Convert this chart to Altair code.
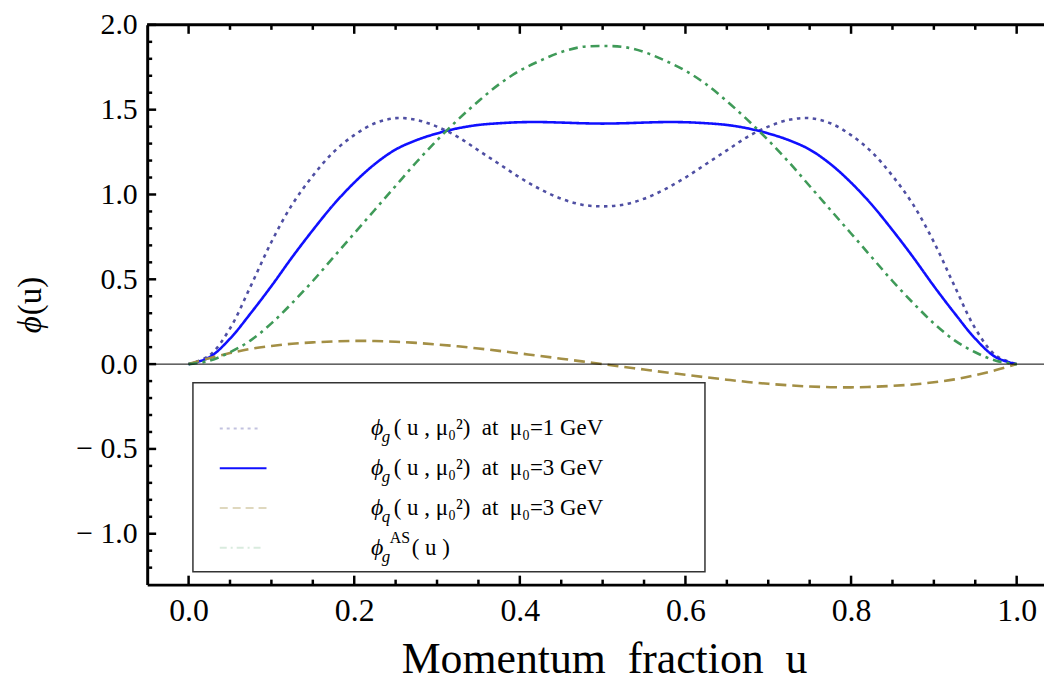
import altair as alt
import pandas as pd

# ---------------- data ----------------
u = [0.0, 0.025, 0.05, 0.075, 0.1, 0.125, 0.15, 0.175, 0.2, 0.225, 0.25,
     0.275, 0.3, 0.325, 0.35, 0.375, 0.4, 0.425, 0.45, 0.475, 0.5,
     0.525, 0.55, 0.575, 0.6, 0.625, 0.65, 0.675, 0.7, 0.725, 0.75,
     0.775, 0.8, 0.825, 0.85, 0.875, 0.9, 0.925, 0.95, 0.975, 1.0]

phi_g_1gev = [0, 0.05, 0.21, 0.46, 0.72, 0.94, 1.11, 1.25, 1.35, 1.42, 1.45,
              1.44, 1.40, 1.34, 1.26, 1.18, 1.10, 1.03, 0.975, 0.94, 0.93,
              0.94, 0.975, 1.03, 1.10, 1.18, 1.26, 1.34, 1.40, 1.44, 1.45,
              1.42, 1.35, 1.25, 1.11, 0.94, 0.72, 0.46, 0.21, 0.05, 0]

phi_g_3gev = [0, 0.04, 0.15, 0.30, 0.46, 0.63, 0.79, 0.94, 1.07, 1.18, 1.265,
              1.32, 1.36, 1.39, 1.41, 1.42, 1.426, 1.427, 1.424, 1.42, 1.418,
              1.42, 1.424, 1.427, 1.426, 1.42, 1.41, 1.39, 1.36, 1.32, 1.265,
              1.18, 1.07, 0.94, 0.79, 0.63, 0.46, 0.30, 0.15, 0.04, 0]

phi_q_3gev = [0, 0.035, 0.065, 0.09, 0.107, 0.12, 0.128, 0.134, 0.137, 0.136, 0.132,
              0.125, 0.116, 0.105, 0.092, 0.078, 0.063, 0.048, 0.032, 0.016, 0,
              -0.016, -0.032, -0.048, -0.063, -0.078, -0.092, -0.105, -0.116, -0.125, -0.132,
              -0.136, -0.137, -0.134, -0.128, -0.12, -0.107, -0.09, -0.065, -0.035, 0]

phi_g_as = [0, 0.02, 0.07, 0.14, 0.24, 0.36, 0.49, 0.63, 0.77, 0.91, 1.05,
            1.19, 1.32, 1.44, 1.55, 1.65, 1.73, 1.79, 1.84, 1.87, 1.875,
            1.87, 1.84, 1.79, 1.73, 1.65, 1.55, 1.44, 1.32, 1.19, 1.05,
            0.91, 0.77, 0.63, 0.49, 0.36, 0.24, 0.14, 0.07, 0.02, 0]

x_major = [0.0, 0.2, 0.4, 0.6, 0.8, 1.0]
x_minor = [0.05, 0.1, 0.15, 0.25, 0.3, 0.35, 0.45, 0.5, 0.55, 0.65, 0.7, 0.75,
           0.85, 0.9, 0.95]
y_major = [-1.0, -0.5, 0.0, 0.5, 1.0, 1.5, 2.0]
y_minor = [-1.2, -1.1, -0.9, -0.8, -0.7, -0.6, -0.4, -0.3, -0.2, -0.1,
           0.1, 0.2, 0.3, 0.4, 0.6, 0.7, 0.8, 0.9, 1.1, 1.2, 1.3, 1.4,
           1.6, 1.7, 1.8, 1.9]
zero_line = [0.0]

NB = "\u00a0"
x_title = "Momentum" + NB * 2 + "fraction" + NB * 2 + "u"
y_title_fn = "ϕ"
y_title_rest = "(u)"

leg_fn = ["ϕ", "ϕ", "ϕ", "ϕ"]
leg_sub = ["g", "g", "q", "g"]
leg_sup = ["", "", "", "AS"]
leg_rest = ["(" + NB + "u" + NB + "," + NB + "μ₀²)" + NB * 2 + "at" + NB * 2 + "μ₀=1" + NB + "GeV",
            "(" + NB + "u" + NB + "," + NB + "μ₀²)" + NB * 2 + "at" + NB * 2 + "μ₀=3" + NB + "GeV",
            "(" + NB + "u" + NB + "," + NB + "μ₀²)" + NB * 2 + "at" + NB * 2 + "μ₀=3" + NB + "GeV",
            "(" + NB + "u" + NB + ")"]

# ---------------- styling ----------------
W, H = 902, 563
SERIF = "Liberation Serif"
xs = alt.Scale(domain=[-0.05, 1.033], nice=False, zero=False)
ys = alt.Scale(domain=[-1.3, 2.0], nice=False, zero=False)

series = [
    (phi_g_1gev, "#4f4fa3", [3.5, 4.5]),
    (phi_g_3gev, "#1010ff", [1, 0]),
    (phi_q_3gev, "#a38f45", [11, 6]),
    (phi_g_as, "#3f9a58", [9, 5, 3, 5]),
]

xaxis = alt.Axis(values=x_major, format=".1f", ticks=False, grid=False,
                 domainWidth=3, domainColor="black",
                 labelFont=SERIF, labelFontSize=32, labelPadding=11,
                 labelColor="black", title=None)
yaxis = alt.Axis(values=y_major, ticks=False, grid=False,
                 labelExpr="datum.value < 0 ? '\u2212\u00a0' + format(-datum.value, '.1f') : format(datum.value, '.1f')",
                 domainWidth=3, domainColor="black",
                 labelFont=SERIF, labelFontSize=30, labelPadding=10,
                 labelColor="black", title=None)

one = pd.DataFrame({"k": [0]})
layers = []

# curves (all layers share the same axis definition)
for i, (vals, col, dash) in enumerate(series):
    df = pd.DataFrame({"u": u, "v": vals})
    layers.append(
        alt.Chart(df).mark_line(color=col, strokeDash=dash, strokeWidth=2.6,
                                interpolate="catmull-rom").encode(
            x=alt.X("u:Q", scale=xs, axis=xaxis),
            y=alt.Y("v:Q", scale=ys, axis=yaxis)))

# zero line
layers.append(alt.Chart(pd.DataFrame({"z": zero_line})).mark_rule(
    color="black", strokeWidth=1).encode(
    y=alt.Y("z:Q", scale=ys, axis=yaxis)))

# frame top
layers.append(alt.Chart(one).mark_rule(color="black", strokeWidth=3).encode(
    x=alt.value(0), x2=alt.value(W), y=alt.value(0)))

# ticks (inward)
for vals, ln in ((x_major, 9), (x_minor, 5)):
    d = pd.DataFrame({"t": vals})
    layers.append(alt.Chart(d).mark_rule(color="black", strokeWidth=2.5).encode(
        x=alt.X("t:Q", scale=xs, axis=xaxis), y=alt.value(H), y2=alt.value(H - ln)))
    layers.append(alt.Chart(d).mark_rule(color="black", strokeWidth=2.5).encode(
        x=alt.X("t:Q", scale=xs, axis=xaxis), y=alt.value(0), y2=alt.value(ln)))
for vals, ln in ((y_major, 9), (y_minor, 5)):
    d = pd.DataFrame({"t": vals})
    layers.append(alt.Chart(d).mark_rule(color="black", strokeWidth=2.5).encode(
        y=alt.Y("t:Q", scale=ys, axis=yaxis), x=alt.value(0), x2=alt.value(ln)))

# axis titles
tdf = pd.DataFrame({"xt": [x_title], "yf": [y_title_fn], "yr": [y_title_rest]})
layers.append(alt.Chart(tdf).mark_text(font=SERIF, fontSize=44, align="center",
                                       baseline="middle", color="black").encode(
    x=alt.value(460), y=alt.value(H + 76), text="xt:N"))
layers.append(alt.Chart(tdf).mark_text(font=SERIF, fontSize=33, align="right",
                                       baseline="middle", angle=270, fontStyle="italic",
                                       color="black").encode(
    x=alt.value(-117), y=alt.value(293), text="yf:N"))
layers.append(alt.Chart(tdf).mark_text(font=SERIF, fontSize=33, align="left",
                                       baseline="middle", angle=270,
                                       color="black").encode(
    x=alt.value(-117), y=alt.value(292), text="yr:N"))

# legend box
layers.append(alt.Chart(one).mark_rect(fill="white", stroke="#333333",
                                       strokeWidth=1.5).encode(
    x=alt.value(46), x2=alt.value(561), y=alt.value(360), y2=alt.value(550)))

leg_sym = [("#4f4fa3", [3, 4], 0.35, 113),
           ("#1010ff", [1, 0], 1.0, 120),
           ("#a38f45", [8, 5], 0.35, 120),
           ("#3f9a58", [7, 4, 2, 4], 0.2, 115)]
row_y = [406, 446, 486, 526]
for i in range(4):
    col, dash, op, xe = leg_sym[i]
    yy = row_y[i]
    layers.append(alt.Chart(one).mark_rule(color=col, strokeDash=dash,
                                           strokeWidth=2, opacity=op).encode(
        x=alt.value(73), x2=alt.value(xe), y=alt.value(yy)))
    d = pd.DataFrame({"fn": [leg_fn[i]], "sub": [leg_sub[i]],
                      "sup": [leg_sup[i]], "rest": [leg_rest[i]]})
    layers.append(alt.Chart(d).mark_text(font=SERIF, fontSize=24, fontStyle="italic",
                                         align="left", baseline="middle",
                                         color="black").encode(
        x=alt.value(225), y=alt.value(yy), text="fn:N"))
    layers.append(alt.Chart(d).mark_text(font=SERIF, fontSize=17, fontStyle="italic",
                                         align="left", baseline="middle",
                                         color="black").encode(
        x=alt.value(236), y=alt.value(yy + 9), text="sub:N"))
    if leg_sup[i]:
        layers.append(alt.Chart(d).mark_text(font=SERIF, fontSize=16,
                                             align="left", baseline="middle",
                                             color="black").encode(
            x=alt.value(244), y=alt.value(yy - 10), text="sup:N"))
    layers.append(alt.Chart(d).mark_text(font=SERIF, fontSize=23,
                                         align="left", baseline="middle",
                                         color="black").encode(
        x=alt.value(266 if leg_sup[i] else 248), y=alt.value(yy), text="rest:N"))

chart = alt.layer(*layers).properties(
    width=W, height=H,
    autosize=alt.AutoSizeParams(type="none"),
    padding={"left": 140, "top": 15, "right": 0, "bottom": 100},
    background="white",
).configure_view(stroke=None)

chart.save("out.html", embed_options={"renderer": "svg", "actions": False})
